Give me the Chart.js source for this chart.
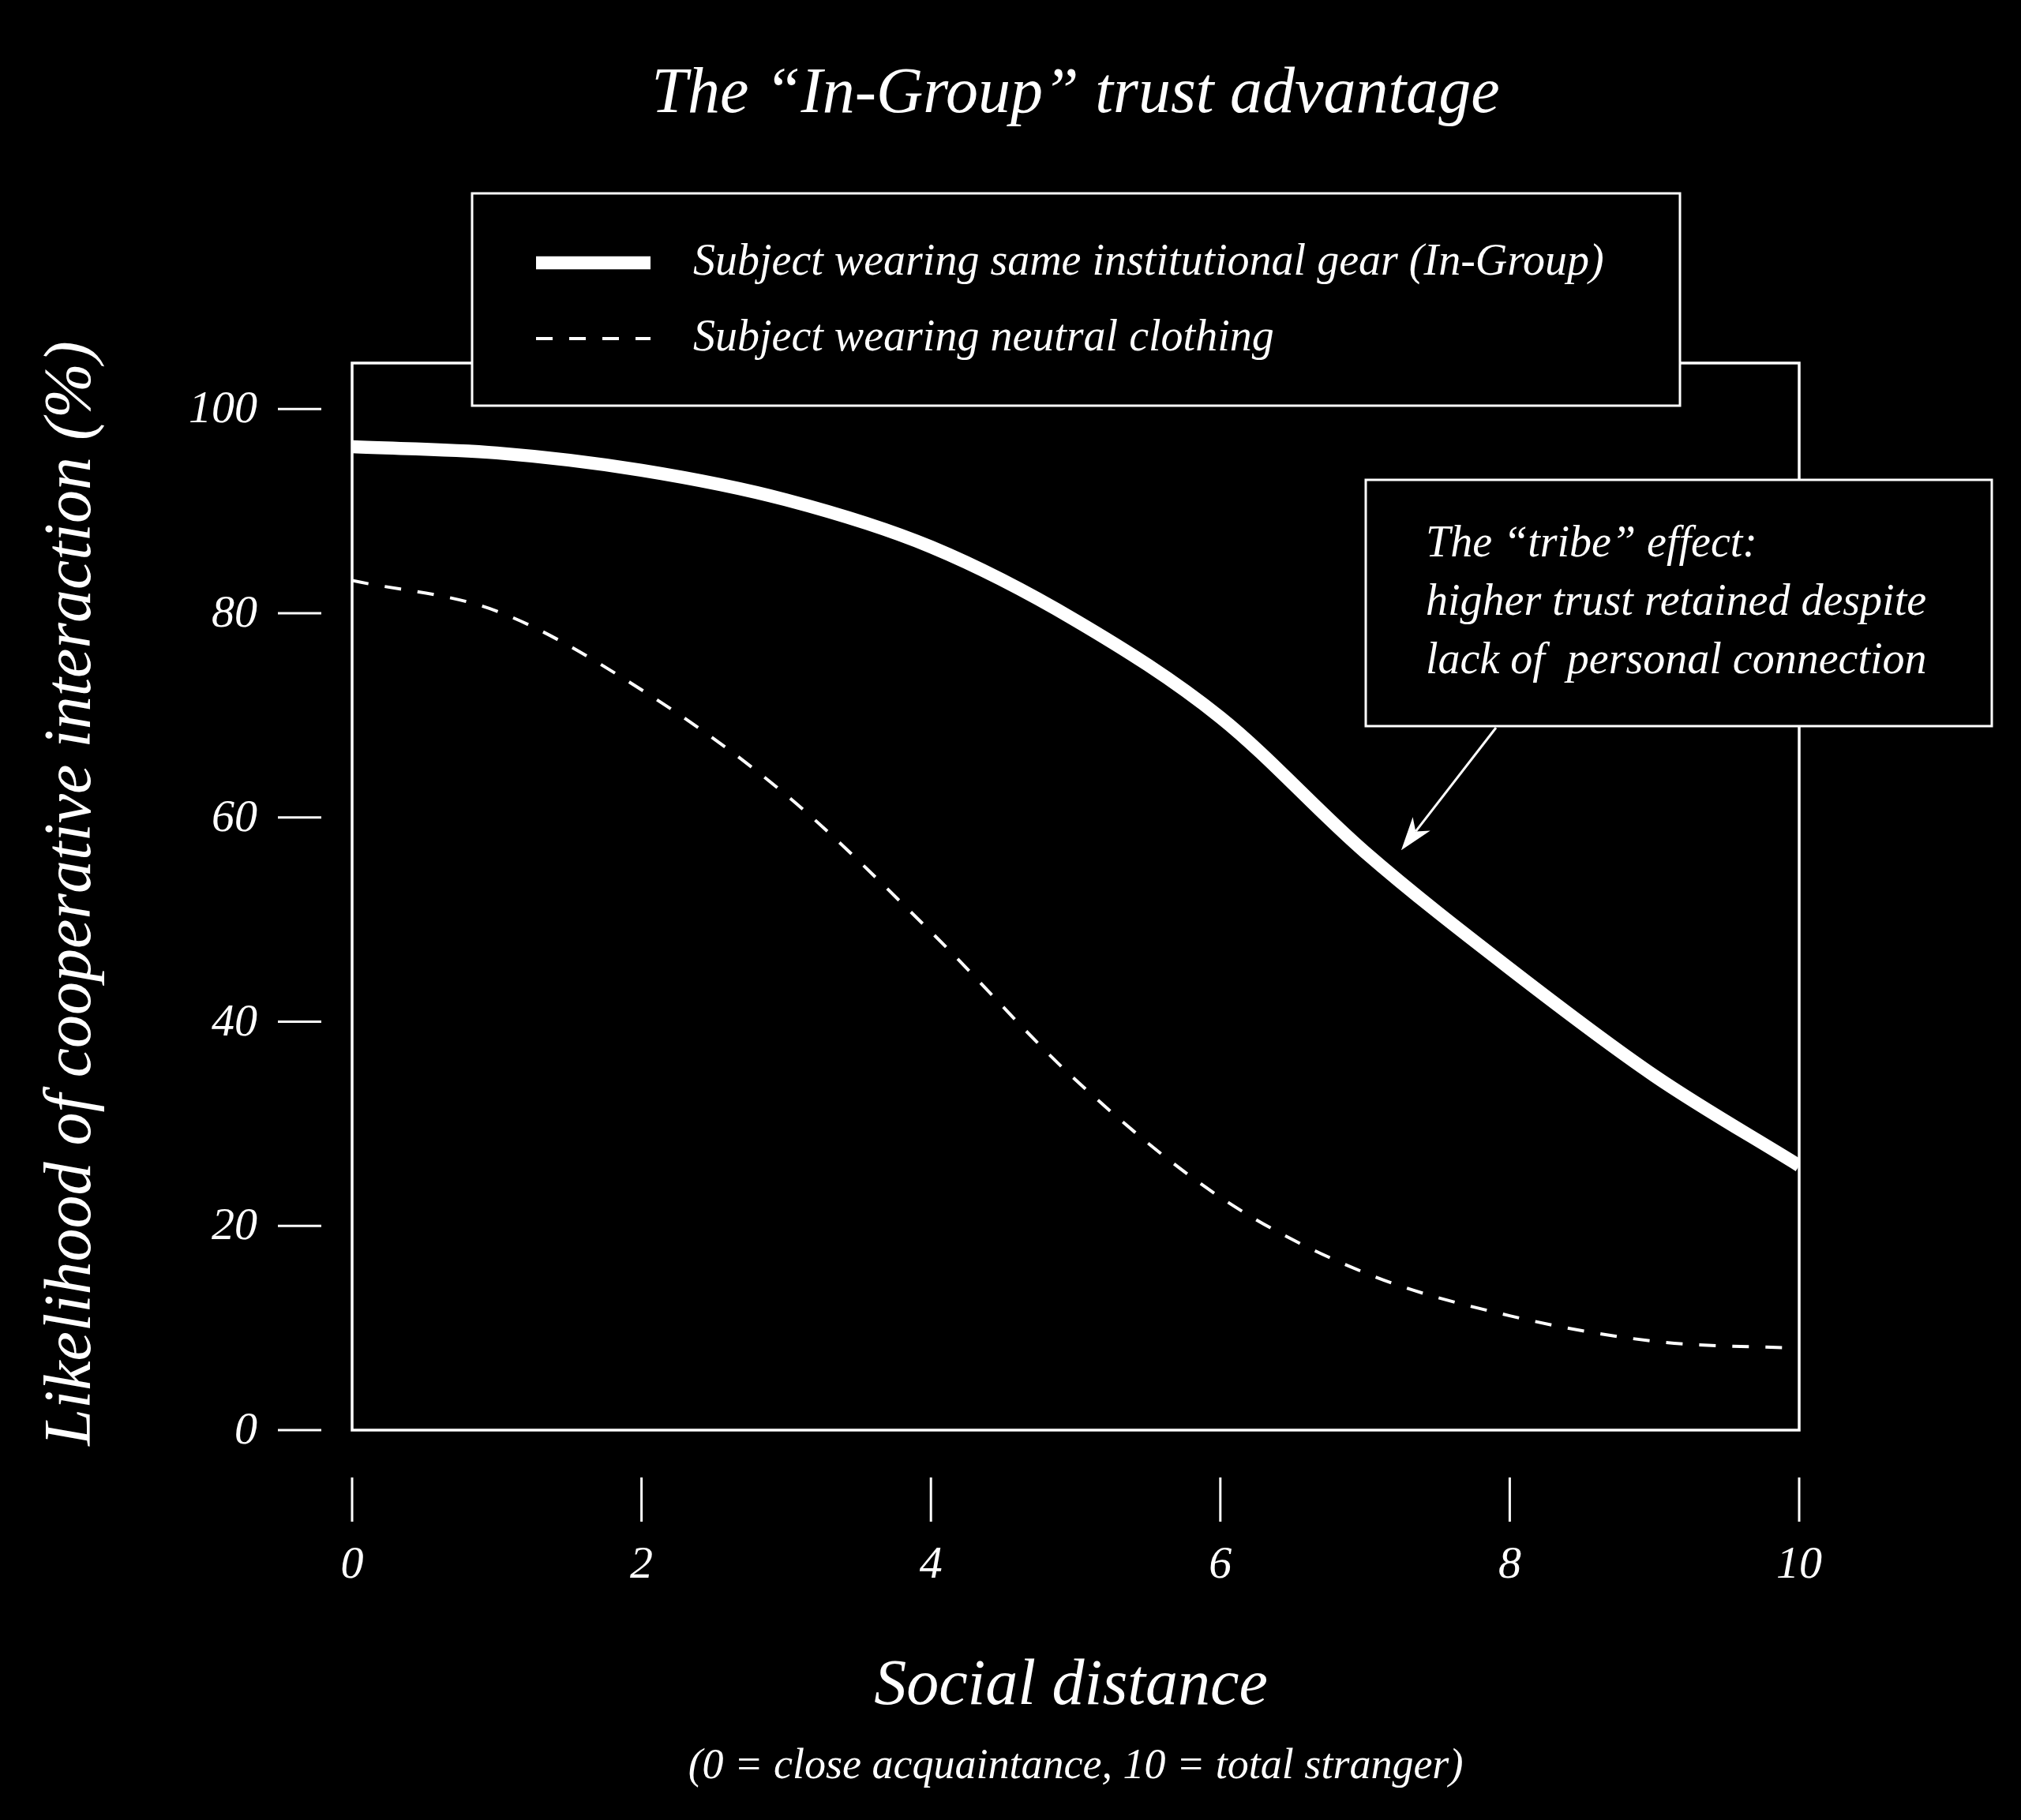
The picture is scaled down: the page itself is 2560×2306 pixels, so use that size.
<!DOCTYPE html>
<html>
<head>
<meta charset="utf-8">
<title>The “In-Group” trust advantage</title>
<script src="https://cdn.jsdelivr.net/npm/chart.js@4.4.1/dist/chart.umd.min.js"></script>
<style>
  html, body { margin: 0; padding: 0; background: #000; }
  #wrap { width: 2560px; height: 2306px; }
</style>
</head>
<body>
<div id="wrap"><canvas id="chart"></canvas></div>
<script>
// values
const distance = [0, 1, 2, 3, 4, 5, 6, 7, 8, 9, 10];
const inGroup = [96.3, 95.7, 94.0, 91.1, 86.5, 79.3, 69.8, 56.6, 45.2, 34.7, 25.9];
const neutral = [83.2, 80.2, 72.5, 62.2, 48.8, 34.3, 22.8, 15.4, 11.2, 8.7, 8.0];
const xTicks = [0, 2, 4, 6, 8, 10];
const yTicks = [0, 20, 40, 60, 80, 100];
const seriesNames = [
  'Subject wearing same institutional gear (In-Group)',
  'Subject wearing neutral clothing'
];
const noteLines = ['The “tribe” effect:', 'higher trust retained despite', 'lack of  personal connection'];
const notePoint = [7.25, 56.8]; // where the arrow points

const FAMILY = '"Liberation Serif", "DejaVu Serif", serif';
const font = (size) => `italic ${size}px ${FAMILY}`;
const WHITE = '#ffffff';

function toPoints(ys) {
  return distance.map((x, i) => ({ x: x, y: ys[i] }));
}

// axes, titles, legend and note box, drawn around the chart area
const decorations = {
  id: 'decorations',
  beforeDraw(chart) {
    const ctx = chart.ctx;
    ctx.save();
    ctx.fillStyle = '#000';
    ctx.fillRect(0, 0, chart.width, chart.height);
    ctx.restore();
  },
  afterDatasetsDraw(chart) {
    const ctx = chart.ctx;
    const area = chart.chartArea;
    const xs = chart.scales.x;
    const ys = chart.scales.y;
    const midX = (area.left + area.right) / 2;

    ctx.save();
    ctx.strokeStyle = WHITE;
    ctx.fillStyle = WHITE;

    // plot frame
    ctx.lineWidth = 3.5;
    ctx.strokeRect(area.left, area.top, area.right - area.left, area.bottom - area.top);

    // y ticks (detached from the frame)
    ctx.lineWidth = 3;
    ctx.font = font(58);
    ctx.textAlign = 'right';
    ctx.textBaseline = 'middle';
    yTicks.forEach(v => {
      const y = ys.getPixelForValue(v);
      ctx.beginPath();
      ctx.moveTo(area.left - 94, y);
      ctx.lineTo(area.left - 39, y);
      ctx.stroke();
      ctx.fillText(String(v), area.left - 120, y + 2);
    });

    // x ticks
    ctx.textAlign = 'center';
    xTicks.forEach(v => {
      const x = xs.getPixelForValue(v);
      ctx.beginPath();
      ctx.moveTo(x, area.bottom + 60);
      ctx.lineTo(x, area.bottom + 116);
      ctx.stroke();
      ctx.fillText(String(v), x, area.bottom + 172);
    });

    // titles
    ctx.textBaseline = 'alphabetic';
    ctx.font = font(82);
    ctx.fillText('The “In-Group” trust advantage', midX, 142);
    ctx.font = font(82);
    ctx.fillText('Social distance', midX - 6, 2159);
    ctx.font = font(54);
    ctx.fillText('(0 = close acquaintance, 10 = total stranger)', midX, 2253);

    ctx.save();
    ctx.translate(114, (area.top + area.bottom) / 2 - 4);
    ctx.rotate(-Math.PI / 2);
    ctx.font = font(84);
    ctx.fillText('Likelihood of cooperative interaction (%)', 0, 0);
    ctx.restore();

    // legend box
    ctx.fillStyle = '#000';
    ctx.fillRect(598, 245, 1530, 269);
    ctx.lineWidth = 3;
    ctx.strokeRect(598, 245, 1530, 269);
    ctx.fillStyle = WHITE;
    const rows = [333, 429];
    chart.data.datasets.forEach((ds, i) => {
      ctx.save();
      ctx.lineWidth = ds.borderWidth;
      ctx.setLineDash(ds.borderDash || []);
      ctx.beginPath();
      ctx.moveTo(679, rows[i]);
      ctx.lineTo(824, rows[i]);
      ctx.stroke();
      ctx.restore();
      ctx.font = font(56);
      ctx.textAlign = 'left';
      ctx.textBaseline = 'middle';
      ctx.fillText(seriesNames[i], 878, rows[i]);
    });

    // note box
    ctx.fillStyle = '#000';
    ctx.fillRect(1730, 608, 793, 312);
    ctx.lineWidth = 3;
    ctx.strokeRect(1730, 608, 793, 312);
    ctx.fillStyle = WHITE;
    ctx.font = font(56);
    ctx.textAlign = 'left';
    ctx.textBaseline = 'alphabetic';
    noteLines.forEach((t, i) => ctx.fillText(t, 1806, 705 + i * 74));

    // arrow from the note box to the in-group curve
    const tx = xs.getPixelForValue(notePoint[0]);
    const ty = ys.getPixelForValue(notePoint[1]);
    const sx = 1895, sy = 922;
    const ang = Math.atan2(ty - sy, tx - sx);
    ctx.lineWidth = 3;
    ctx.beginPath();
    ctx.moveTo(sx, sy);
    ctx.lineTo(tx - 30 * Math.cos(ang), ty - 30 * Math.sin(ang));
    ctx.stroke();
    ctx.beginPath();
    ctx.moveTo(tx, ty);
    ctx.lineTo(tx - 42 * Math.cos(ang) + 14 * Math.sin(ang), ty - 42 * Math.sin(ang) - 14 * Math.cos(ang));
    ctx.lineTo(tx - 30 * Math.cos(ang), ty - 30 * Math.sin(ang));
    ctx.lineTo(tx - 42 * Math.cos(ang) - 14 * Math.sin(ang), ty - 42 * Math.sin(ang) + 14 * Math.cos(ang));
    ctx.closePath();
    ctx.fill();

    ctx.restore();
  }
};

const ctx = document.getElementById('chart');
new Chart(ctx, {
  type: 'line',
  data: {
    datasets: [
      {
        label: seriesNames[0],
        data: toPoints(inGroup),
        borderColor: WHITE,
        borderWidth: 16.5,
        pointRadius: 0,
        cubicInterpolationMode: 'monotone'
      },
      {
        label: seriesNames[1],
        data: toPoints(neutral),
        borderColor: WHITE,
        borderWidth: 4,
        borderDash: [21, 21],
        pointRadius: 0,
        cubicInterpolationMode: 'monotone'
      }
    ]
  },
  options: {
    responsive: true,
    maintainAspectRatio: false,
    animation: false,
    devicePixelRatio: 1,
    layout: { padding: { left: 446, right: 281, top: 460, bottom: 494 } },
    scales: {
      x: { type: 'linear', min: 0, max: 10, display: false },
      y: { type: 'linear', min: 0, max: 104.5, display: false }
    },
    plugins: {
      legend: { display: false },
      tooltip: { enabled: false },
      title: { display: false }
    }
  },
  plugins: [decorations]
});
</script>
</body>
</html>
